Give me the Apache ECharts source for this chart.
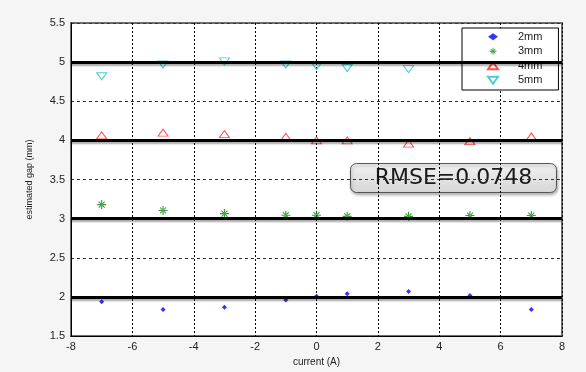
<!DOCTYPE html>
<html>
<head>
<meta charset="utf-8">
<script src="https://cdn.jsdelivr.net/npm/echarts@6/dist/echarts.min.js"></script>
<style>
html,body{margin:0;padding:0;background:#f5f5f5;}
#main{width:586px;height:372px;}
</style>
</head>
<body>
<div id="main"></div>
<script>
// currents (A) and estimated gaps (mm)
var currents = [-7, -5, -3, -1, 0, 1, 3, 5, 7];
var gap2 = [1.94, 1.84, 1.87, 1.96, 2.01, 2.04, 2.07, 2.02, 1.84];
var gap3 = [3.18, 3.105, 3.065, 3.045, 3.045, 3.03, 3.03, 3.04, 3.04];
var gap4 = [4.065, 4.10, 4.08, 4.045, 4.0, 4.0, 3.96, 3.99, 4.05];
var gap5 = [4.82, 4.97, 5.01, 4.97, 4.95, 4.925, 4.91]; // 5 and 7 A hidden under legend
var seriesNames = ['2mm', '3mm', '4mm', '5mm'];
var trueGaps = [2, 3, 4, 5];
var rmseText = 'RMSE=0.0748';

function pairs(xs, ys) {
    var out = [];
    for (var i = 0; i < ys.length; i++) {
        out.push([xs[i], ys[i]]);
    }
    return out;
}

function refLine(v) {//粗黑参考线
    return {
        silent: true,
        symbol: ['none', 'none'],
        label: {show: false},
        lineStyle: {
            color: '#000', width: 3, type: 'solid',
            shadowColor: 'rgba(0,0,0,0.35)', shadowBlur: 2, shadowOffsetY: 2
        },
        emphasis: {disabled: true},
        data: [{yAxis: v}]
    };
}

var asterisk = 'path://M4.4,0h1.2v10h-1.2z M0,4.4h10v1.2h-10z M1.3,2.1l0.8,-0.8 6.6,6.6 -0.8,0.8z M8.7,2.1l-0.8,-0.8 -6.6,6.6 0.8,0.8z';
var triUp = 'path://M5,0L10,7L0,7Z';
var triDown = 'path://M0,0L10,0L5,7Z';
var font = 'Liberation Sans';

var option = {
    backgroundColor: '#f5f5f5',
    animation: false,
    textStyle: {fontFamily: font},
    grid: {
        left: 71, right: 24, top: 23, bottom: 29,
        show: true, backgroundColor: '#fff', borderColor: '#6f6f6f', borderWidth: 2
    },
    legend: {
        data: [
            {name: seriesNames[0]},
            {name: seriesNames[1]},
            {name: seriesNames[2], icon: triUp},
            {name: seriesNames[3], icon: triDown}
        ],
        orient: 'vertical',
        left: 462, top: 28,
        padding: [2, 16, 3, 25],
        itemWidth: 10, itemHeight: 7, itemGap: 1,
        backgroundColor: '#fff',
        borderColor: '#000', borderWidth: 1,
        textStyle: {fontSize: 11, color: '#222', fontFamily: font, lineHeight: 13.5, padding: [0, 0, 0, 15]},
        selectedMode: false
    },
    xAxis: {
        type: 'value', min: -8, max: 8, interval: 2,
        name: 'current (A)', nameLocation: 'middle', nameGap: 19,
        nameTextStyle: {fontSize: 10, color: '#222'},
        axisLine: {lineStyle: {color: '#000', width: 1}},
        axisTick: {show: false},
        axisLabel: {fontSize: 11, color: '#222', margin: 5},
        splitLine: {lineStyle: {color: '#000', type: [2, 2], width: 1}}
    },
    yAxis: {
        type: 'value', min: 1.5, max: 5.5, interval: 0.5,
        name: 'estimated gap (mm)', nameLocation: 'middle', nameGap: 37,
        nameTextStyle: {fontSize: 9, color: '#222'},
        axisLine: {show: true, onZero: false, lineStyle: {color: '#000', width: 1}},
        axisTick: {show: false},
        axisLabel: {fontSize: 11, color: '#222', margin: 6},
        splitLine: {lineStyle: {color: '#333', type: [3, 3], width: 1}}
    },
    series: [
        {
            name: seriesNames[0], type: 'scatter',
            data: pairs(currents, gap2),
            symbol: 'diamond', symbolSize: 5,
            itemStyle: {color: '#0000ff'},
            markLine: refLine(trueGaps[0])
        },
        {
            name: seriesNames[1], type: 'scatter',
            data: pairs(currents, gap3),
            symbol: asterisk, symbolSize: 9,
            itemStyle: {color: '#008000'},
            markLine: refLine(trueGaps[1])
        },
        {
            name: seriesNames[2], type: 'scatter',
            data: pairs(currents, gap4),
            symbol: triUp, symbolSize: [10, 7],
            itemStyle: {color: 'rgba(0,0,0,0)', borderColor: '#ff2020', borderWidth: 1},
            markLine: refLine(trueGaps[2])
        },
        {
            name: seriesNames[3], type: 'scatter',
            data: pairs(currents, gap5),
            symbol: triDown, symbolSize: [10, 7],
            itemStyle: {color: 'rgba(0,0,0,0)', borderColor: '#20c0c8', borderWidth: 1},
            markLine: refLine(trueGaps[3])
        }
    ],
    graphic: [
        {
            type: 'group', left: 350, top: 163, z: 10,
            children: [
                {
                    type: 'rect',
                    shape: {x: 0, y: 0, width: 206, height: 29, r: 6},
                    style: {
                        fill: new echarts.graphic.LinearGradient(0, 0, 0, 1, [
                            {offset: 0, color: '#f2f2f2'},
                            {offset: 1, color: '#d6d6d6'}
                        ]),
                        stroke: '#555', lineWidth: 1,
                        shadowColor: 'rgba(0,0,0,0.3)', shadowBlur: 3, shadowOffsetX: 1, shadowOffsetY: 2
                    }
                },
                {
                    type: 'text', x: 103, y: 15,
                    style: {
                        text: rmseText, fontSize: 22, fontFamily: 'DejaVu Sans',
                        fill: '#1a1a1a', align: 'center', verticalAlign: 'middle'
                    }
                }
            ]
        }
    ]
};

var myChart = echarts.init(document.getElementById('main'));
myChart.setOption(option);
</script>
</body>
</html>
